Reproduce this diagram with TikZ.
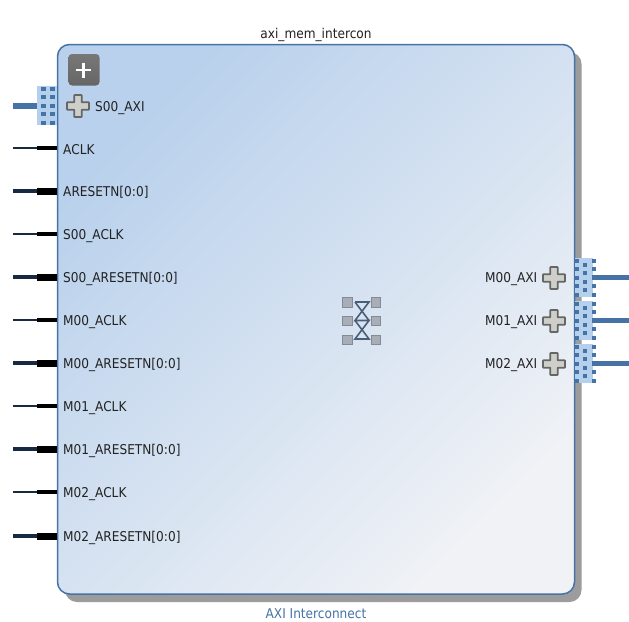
\documentclass[tikz,border=0pt]{standalone}
\usepackage{fontspec}
\setmainfont{DejaVu Sans Condensed}
\usetikzlibrary{calc}
\definecolor{edgeblue}{HTML}{4673A6}
\definecolor{portlight}{HTML}{B5D0EC}
\definecolor{darkwire}{HTML}{182A40}
\definecolor{shadowgray}{HTML}{9C9C9C}
\definecolor{txt}{HTML}{222222}
\definecolor{boxA}{HTML}{B9D1EC}
\definecolor{boxB}{HTML}{F0F2F6}
\definecolor{iconedge}{HTML}{666666}
\definecolor{iconfill}{HTML}{CFCFCA}
\definecolor{chipfill}{HTML}{A8AEB8}
\definecolor{hourglass}{HTML}{4A5E78}
\tikzset{
  x=1pt,y=-1pt,
  lbl/.style={font=\fontsize{13.5}{15}\selectfont,text=txt,inner sep=0pt},
  lleft/.style={lbl,anchor=west,yshift=-1.6pt},
  lright/.style={lbl,anchor=east,yshift=-1.6pt},
  clkstub/.style={draw=darkwire,line width=1.5pt},
  clkpin/.style={draw=black,line width=4pt},
  rststub/.style={draw=darkwire,line width=3.6pt},
  rstpin/.style={draw=black,line width=7pt},
  chip/.style={fill=chipfill,draw=chipfill!80!black,line width=.3pt},
  portdot/.style={fill=edgeblue},
  portbg/.style={fill=portlight},
  buswire/.style={draw=edgeblue,line width=5.2pt},
}
\newcommand{\plusicon}[2]{%
  \path[fill=iconfill,draw=iconedge,line width=1.8pt,rounded corners=.6pt]
   (#1-3.7,#2-11)--(#1+3.7,#2-11)--(#1+3.7,#2-3.7)--(#1+11,#2-3.7)--(#1+11,#2+3.7)--(#1+3.7,#2+3.7)--(#1+3.7,#2+11)--(#1-3.7,#2+11)--(#1-3.7,#2+3.7)--(#1-11,#2+3.7)--(#1-11,#2-3.7)--(#1-3.7,#2-3.7)--cycle;}
\newcommand{\rightport}[1]{%
  \fill[portbg] (575,#1) rectangle (593,#1+39);
  \foreach \r in {0,1,2,3,4}{
    \fill[portdot] (575,#1+.5+\r*8.6) rectangle (578.5,#1+4.5+\r*8.6);
    \fill[portdot] (592,#1+.5+\r*8.6) rectangle (596,#1+4.5+\r*8.6);
  }
  \foreach \r in {0,1,2,3}{
    \fill[portdot] (583,#1+5+\r*8.4) rectangle (587,#1+9+\r*8.4);
  }
  \draw[buswire] (592,#1+19.5) -- (629,#1+19.5);
}
\begin{document}
\begin{tikzpicture}
\useasboundingbox (0,0) rectangle (629,621);
\fill[white] (0,0) rectangle (629,621);
% shadow
\fill[shadowgray,rounded corners=12pt] (65,52) rectangle (581.5,602);
% body
\begin{scope}
\clip[rounded corners=12pt] (57.5,44.5) rectangle (574.5,594);
\shade[shading=axis,bottom color=boxB,top color=boxA,shading angle=45] (57.5,44.5) rectangle (574.5,594);
\end{scope}
\draw[edgeblue,line width=1.5pt,rounded corners=12pt] (57.5,44.5) rectangle (574.5,594);
\node[lbl] (title) at (316,35) {axi\_mem\_intercon};
\node[lbl,text=edgeblue] (sub) at (316,613.5) {AXI Interconnect};
% plus button
\shade[rounded corners=3.5pt,top color=gray!75!black!85,bottom color=gray!80!black] (68.5,54) rectangle (99.5,85.5);
\draw[white,line width=2.6pt] (83.5,62.5) -- (83.5,77.5) (76,70) -- (91,70);
% left bus port
\fill[portbg] (37,86) rectangle (57,125);
\foreach \r in {0,1,2,3,4}{
  \fill[portdot] (41,86.5+\r*8.5) rectangle (45.5,90.5+\r*8.5);
  \fill[portdot] (50,86.5+\r*8.5) rectangle (54.5,90.5+\r*8.5);
}
\draw[buswire] (13,106) -- (37,106);
\plusicon{78}{106}
\node[lleft] (s00) at (95,106) {S00\_AXI};
% left pins
\foreach \y/\t in {148/ACLK,234/S00\_ACLK,320/M00\_ACLK,406/M01\_ACLK,492/M02\_ACLK}{
  \draw[clkstub] (13,\y) -- (37,\y);
  \draw[clkpin] (37,\y) -- (57,\y);
  \node[lleft] at (63,\y) {\t};
}
\foreach \y/\t in {191/ARESETN[0:0],277/S00\_ARESETN[0:0],363/M00\_ARESETN[0:0],449/M01\_ARESETN[0:0],536/M02\_ARESETN[0:0]}{
  \draw[rststub] (13,\y) -- (37,\y);
  \draw[rstpin] (37,\y) -- (57,\y);
  \node[lleft] at (63,\y) {\t};
}
% right ports
\rightport{258}
\rightport{301}
\rightport{344}
\foreach \y/\t in {277/M00\_AXI,320/M01\_AXI,363/M02\_AXI}{
  \plusicon{554}{\y+1}
  \node[lright] at (537.5,\y) {\t};
}
% centre symbol
\foreach \x in {342.5,371}\foreach \y in {297.5,316,335}{
  \fill[chip] (\x,\y) rectangle +(9.5,9.5);
}
\draw[hourglass,line width=1.6pt] (355,302) -- (369,302) -- (355,320.5) -- (369,320.5) -- (355,339) -- (369,339) -- (355,320.5) (369,320.5) -- (355,302);
\end{tikzpicture}
\end{document}
